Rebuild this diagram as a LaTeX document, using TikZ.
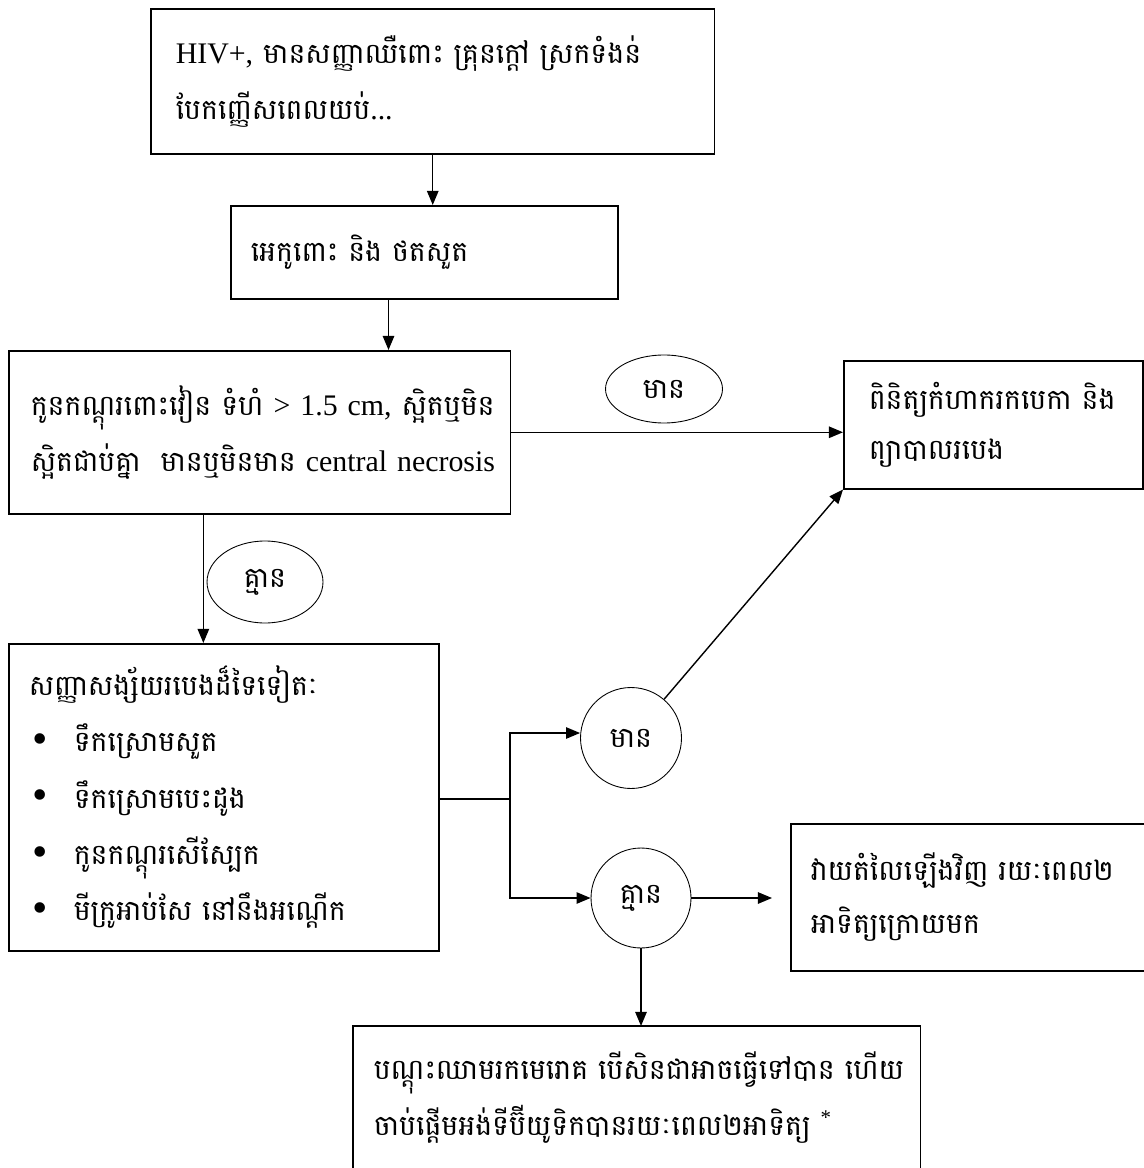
\documentclass[tikz,border=0pt]{standalone}
\usepackage{fontspec}
\setmainfont{Liberation Serif}
\newfontfamily\kh[Script=Khmer, Scale=0.95, WordSpace=0.7]{Battambang}
\usetikzlibrary{arrows.meta,positioning,calc,shapes.geometric}
\newcommand{\km}[1]{\mbox{\kh #1}}
\newcommand{\puce}{\makebox[0.9cm][l]{\hspace{0.08cm}\raisebox{-1pt}{\fontsize{25}{25}\selectfont\textbullet}}}
\tikzset{
  boite/.style={rectangle, draw, line width=0.9pt, anchor=north west, align=left,
                inner xsep=0.4cm, inner ysep=0pt, font=\fontsize{17}{32}\selectfont},
  bulle/.style={ellipse, draw, line width=0.5pt, inner sep=0pt, font=\fontsize{17}{20}\selectfont},
  rond/.style={circle, draw, line width=0.5pt, inner sep=0pt, minimum size=2.02cm,
               font=\fontsize{17}{20}\selectfont},
  arr/.style={-{Triangle[length=8pt,width=6.5pt]}, line width=0.8pt},
}

\begin{document}
\begin{tikzpicture}[x=0.02cm, y=-0.02cm]
  \useasboundingbox (0,0) rectangle (1143,1168);
  \node[boite, text width=10.28cm, inner xsep=0.5cm, minimum height=2.9cm] (hiv) at (150,8)
    {\mbox{HIV+, \km{មានសញ្ញាឈឺពោះ គ្រុនក្តៅ ស្រកទំងន់}}\\
     \mbox{\km{បែកញ្ញើសពេលយប់}...}};
  \node[boite, text width=6.94cm, minimum height=1.86cm] (echo) at (230,205)
    {\km{អេកូពោះ និង ថតសួត}};
  \node[boite, text width=9.16cm, inner xsep=0.44cm, minimum height=3.26cm] (gang) at (8,350)
    {\mbox{\km{កូនកណ្តុរពោះវៀន ទំហំ} > 1.5 cm, \km{ស្អិតឬមិន}}\\
     \mbox{\km{ស្អិតជាប់គ្នា\ \ មានឬមិនមាន} central necrosis}};
  \node[boite, text width=4.98cm, inner xsep=0.5cm, minimum height=2.56cm,
        font=\fontsize{17}{28}\selectfont] (tb) at (843,360)
    {\km{ពិនិត្យកំហាករកបេកា និង}\\
     \km{ព្យាបាលរបេង}};
  \node[boite, text width=7.8cm, minimum height=6.14cm] (autres) at (8,643)
    {\km{សញ្ញាសង្ស័យរបេងដ៏ទៃទៀតៈ}\\
     \puce\km{ទឹកស្រោមសួត}\\
     \puce\km{ទឹកស្រោមបេះដូង}\\
     \puce\km{កូនកណ្តុរសើស្បែក}\\
     \puce\km{មីក្រូអាប់សែ នៅនឹងអណ្តើក}};
  \node[boite, text width=6.4cm, minimum height=2.94cm,
        font=\fontsize{17}{30}\selectfont] (reeval) at (790,823)
    {\km{វាយតំលៃឡើងវិញ រយៈពេល២}\\
     \km{អាទិត្យក្រោយមក}};
  \node[boite, draw=none, text width=10.52cm, minimum height=2.84cm] (hemo) at (353,1026)
    {\km{បណ្តុះឈាមរកមេរោគ បើសិនជាអាចធ្វើទៅបាន ហើយ}\\
     \mbox{\km{ចាប់ផ្តើមអង់ទីប៊ីយូទិកបានរយៈពេល២អាទិត្យ} \textsuperscript{*}}};
  \draw[line width=0.9pt] (hemo.south west) -- (hemo.north west) -- (hemo.north east) -- (hemo.south east);

  \node[bulle, minimum width=2.34cm, minimum height=1.36cm] (oui1) at (664,389) {\km{មាន}};
  \node[bulle, minimum width=2.32cm, minimum height=1.64cm] (non1) at (265,582) {\km{គ្មាន}};
  \node[rond] (oui2) at (631,738) {\km{មាន}};
  \node[rond, minimum size=2cm] (non2) at (641,898) {\km{គ្មាន}};

  \coordinate (t2) at ($(echo.south west)!0.408!(echo.south east)$);
  \coordinate (t3) at ($(gang.south west)!0.388!(gang.south east)$);
  \coordinate (fourche) at (510,799);
  \draw[arr] (hiv.south) -- (hiv.south |- echo.north); \draw[arr] (t2) -- (t2 |- gang.north);
  \draw[arr] (gang.east) -- (gang.east -| tb.west);
  \draw[arr] (t3) -- (t3 |- autres.north);
  \draw[line width=0.8pt] (autres.east |- fourche) -- (fourche);
  \draw[arr] (fourche) |- ([yshift=0.1cm]oui2.west);
  \draw[arr] (fourche) |- (non2.west);
  \draw[arr] (oui2) -- (tb.south west);
  \draw[arr, shorten >=0.36cm] (non2.east) -- (non2.east -| reeval.west);
  \draw[arr] (non2.south) -- (non2.south |- hemo.north);
\end{tikzpicture}
\end{document}
